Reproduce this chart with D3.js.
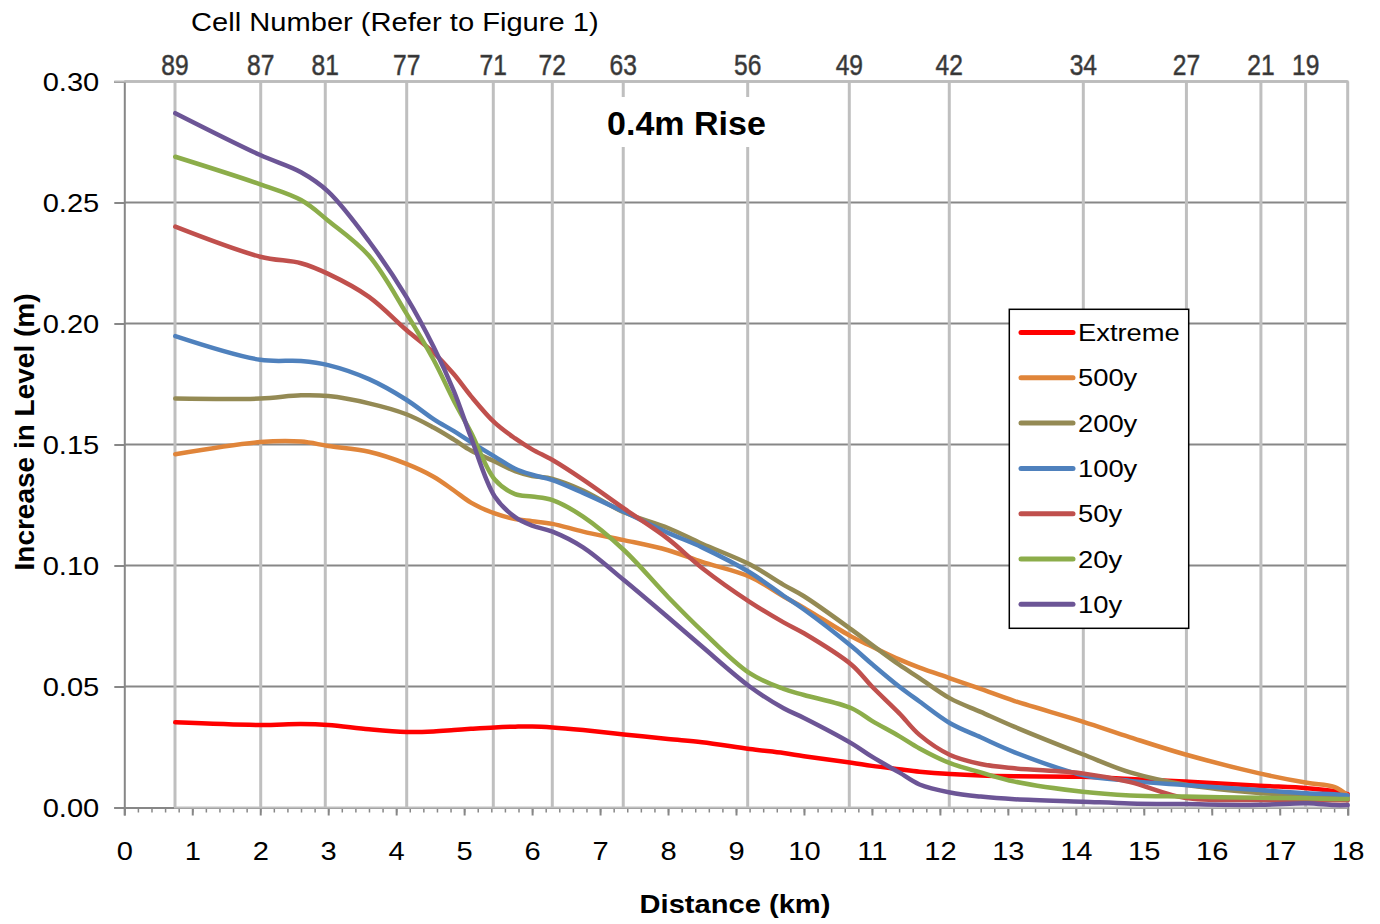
<!DOCTYPE html>
<html>
<head>
<meta charset="utf-8">
<script src="https://cdn.jsdelivr.net/npm/d3@7"></script>
<style>
  body { margin: 0; background: #fff; }
  svg { display: block; font-family: Arial, "Liberation Sans", sans-serif; }
</style>
</head>
<body>
<div id="chart"></div>
<script>
// distance along the channel (km) where each series was read
var distanceKm = [0.75, 2.0, 2.6, 3.0, 3.6, 4.15, 4.55, 4.85, 5.1, 5.45, 5.75, 6.0, 6.3, 6.75, 7.35,
    8.0, 8.5, 9.2, 9.7, 10.0, 10.7, 11.0, 11.4, 11.7, 12.15, 12.6, 13.1, 14.1, 14.8, 15.6, 16.7, 17.4, 17.8, 18.0];

var extreme = [0.0352, 0.0341, 0.0345, 0.0341, 0.0323, 0.0312, 0.0314, 0.0320, 0.0325, 0.0331, 0.0334, 0.0335, 0.0331, 0.0320, 0.0302,
    0.0283, 0.0270, 0.0242, 0.0225, 0.0212, 0.0185, 0.0172, 0.0158, 0.0148, 0.0138, 0.0132, 0.0129, 0.0127, 0.0118, 0.0107, 0.0090, 0.0080, 0.0068, 0.0055];
var y500 = [0.146, 0.151, 0.1512, 0.1494, 0.147, 0.142, 0.1367, 0.131, 0.126, 0.1215, 0.1192, 0.1183, 0.1172, 0.114, 0.1105,
    0.1063, 0.1015, 0.0954, 0.0872, 0.0825, 0.0706, 0.0665, 0.0612, 0.0578, 0.0534, 0.049, 0.044, 0.0355, 0.029, 0.022, 0.0141, 0.0102, 0.0085, 0.005];
var y200 = [0.169, 0.169, 0.1703, 0.170, 0.167, 0.1625, 0.157, 0.152, 0.1475, 0.143, 0.139, 0.137, 0.1358, 0.131, 0.122,
    0.1155, 0.109, 0.1005, 0.092, 0.0873, 0.0735, 0.0672, 0.059, 0.0535, 0.0451, 0.0395, 0.0333, 0.022, 0.0145, 0.0095, 0.006, 0.005, 0.0045, 0.004];
var y100 = [0.1948, 0.185, 0.1845, 0.1828, 0.177, 0.1685, 0.1605, 0.1555, 0.151, 0.145, 0.140, 0.1375, 0.1353, 0.130, 0.1222,
    0.1135, 0.1075, 0.0972, 0.0875, 0.0818, 0.0666, 0.0593, 0.050, 0.0438, 0.0348, 0.029, 0.0228, 0.0134, 0.011, 0.0093, 0.0072, 0.0059, 0.0055, 0.005];
var y50 = [0.240, 0.2276, 0.2249, 0.2205, 0.211, 0.1973, 0.188, 0.179, 0.170, 0.159, 0.1525, 0.148, 0.1436, 0.1355, 0.1236,
    0.111, 0.099, 0.085, 0.0765, 0.072, 0.059, 0.050, 0.039, 0.030, 0.0217, 0.018, 0.0162, 0.0141, 0.0105, 0.004, 0.0031, 0.003, 0.003, 0.003];
var y20 = [0.2689, 0.2575, 0.251, 0.2425, 0.228, 0.2042, 0.185, 0.168, 0.155, 0.1355, 0.1295, 0.1285, 0.127, 0.1202, 0.1064,
    0.087, 0.073, 0.0555, 0.049, 0.0465, 0.041, 0.0358, 0.0295, 0.0244, 0.0183, 0.0145, 0.0107, 0.0065, 0.005, 0.0045, 0.004, 0.0038, 0.0035, 0.0035];
var y10 = [0.2869, 0.2696, 0.2625, 0.2545, 0.234, 0.211, 0.1904, 0.172, 0.153, 0.1285, 0.120, 0.1165, 0.114, 0.1075, 0.094,
    0.0786, 0.0665, 0.050, 0.041, 0.037, 0.0265, 0.021, 0.0145, 0.0095, 0.0062, 0.0045, 0.0034, 0.0024, 0.0017, 0.0014, 0.0011, 0.0018, 0.001, 0.001];

var seriesNames = ["Extreme", "500y", "200y", "100y", "50y", "20y", "10y"];
var seriesValues = [extreme, y500, y200, y100, y50, y20, y10];
var seriesColors = ["#ff0000", "#e0853a", "#948a54", "#4f81bd", "#c0504d", "#8cad4a", "#6c5596"];

// secondary (top) axis: model cell numbers
var cellKm = [0.746, 2.007, 2.957, 4.155, 5.429, 6.297, 7.341, 9.172, 10.667, 12.138, 14.11, 15.627, 16.723, 17.381];
var cellLabels = ["89", "87", "81", "77", "71", "72", "63", "56", "49", "42", "34", "27", "21", "19"];

var width = 1380, height = 924;
var plotLeft = 124.3, plotRight = 1347.7, plotTop = 81.5, plotBottom = 807.5;
var stretch = "scale(1.12,1)";

var svg = d3.select("#chart").append("svg")
    .attr("width", width)
    .attr("height", height);

var x = d3.scaleLinear().domain([0, 18]).range([plotLeft, plotRight]);
var y = d3.scaleLinear().domain([0, 0.3]).range([plotBottom, plotTop]);

// horizontal gridlines
svg.append("g").selectAll("line")
    .data(y.ticks(6).filter(function(d) { return d > 0; }))
    .enter().append("line")
    .attr("x1", plotLeft).attr("x2", plotRight)
    .attr("y1", function(d) { return y(d); })
    .attr("y2", function(d) { return y(d); })
    .attr("stroke", "#878787")
    .attr("stroke-width", 2);

// vertical gridlines at the cells
svg.append("g").selectAll("line")
    .data(cellKm.concat([18]))
    .enter().append("line")
    .attr("x1", function(d) { return x(d); })
    .attr("x2", function(d) { return x(d); })
    .attr("y1", plotTop).attr("y2", plotBottom)
    .attr("stroke", "#bfbfbf")
    .attr("stroke-width", 3);

// left axis
var yAxis = svg.append("g")
    .attr("transform", "translate(" + plotLeft + ",0)")
    .call(d3.axisLeft(y).ticks(6).tickSize(10).tickFormat(d3.format(".2f")));
yAxis.select(".domain").attr("stroke", "#878787").attr("stroke-width", 2);
yAxis.selectAll(".tick line").attr("stroke", "#878787").attr("stroke-width", 2);
yAxis.selectAll(".tick text")
    .attr("x", -25 / 1.12).attr("dy", "0.36em")
    .attr("transform", stretch)
    .style("font-size", "26px").style("font-family", "Arial, 'Liberation Sans', sans-serif")
    .attr("fill", "#000");

// bottom axis, minor then major ticks
var xMinor = svg.append("g")
    .attr("transform", "translate(0," + plotBottom + ")")
    .call(d3.axisBottom(x).tickValues(d3.range(0, 18.01, 0.2)).tickSize(5).tickFormat(""));
xMinor.select(".domain").remove();
xMinor.selectAll(".tick line").attr("stroke", "#878787").attr("stroke-width", 1.5);

var xAxis = svg.append("g")
    .attr("transform", "translate(0," + plotBottom + ")")
    .call(d3.axisBottom(x).ticks(18).tickSize(8).tickFormat(d3.format("d")));
xAxis.select(".domain").attr("stroke", "#878787").attr("stroke-width", 2);
xAxis.selectAll(".tick line").attr("stroke", "#878787").attr("stroke-width", 2);
xAxis.selectAll(".tick text")
    .attr("y", 52.5).attr("dy", 0)
    .attr("transform", stretch)
    .style("font-size", "26px").style("font-family", "Arial, 'Liberation Sans', sans-serif")
    .attr("fill", "#000");

// secondary axis frame (light grey)
svg.append("line")
    .attr("x1", x(cellKm[0]) - 1).attr("x2", plotRight)
    .attr("y1", plotBottom).attr("y2", plotBottom)
    .attr("stroke", "#bfbfbf").attr("stroke-width", 2);
svg.append("line")
    .attr("x1", plotLeft - 10).attr("x2", plotRight + 1)
    .attr("y1", plotTop).attr("y2", plotTop)
    .attr("stroke", "#bcbcbc").attr("stroke-width", 2);

// cell number labels
svg.append("g").selectAll("text")
    .data(cellKm)
    .enter().append("text")
    .attr("transform", function(d) { return "translate(" + x(d) + ",75) scale(0.82,1)"; })
    .attr("text-anchor", "middle")
    .style("font-size", "30px")
    .attr("fill", "#333")
    .attr("stroke", "#555")
    .attr("stroke-width", 0.6)
    .text(function(d, i) { return cellLabels[i]; });

svg.append("text")
    .attr("transform", "translate(191,31) " + stretch)
    .style("font-size", "26px")
    .text("Cell Number (Refer to Figure 1)");

// series, smoothed like the spreadsheet lines
var line = d3.line()
    .x(function(d, i) { return x(distanceKm[i]); })
    .y(function(d) { return y(d); })
    .curve(d3.curveCatmullRom.alpha(0.5));

svg.append("g").selectAll("path")
    .data(seriesValues)
    .enter().append("path")
    .attr("d", line)
    .attr("fill", "none")
    .attr("stroke", function(d, i) { return seriesColors[i]; })
    .attr("stroke-width", 4.5)
    .attr("stroke-linejoin", "round")
    .attr("stroke-linecap", "round");

// chart title with white box
svg.append("rect")
    .attr("x", 596).attr("y", 97).attr("width", 182).attr("height", 50)
    .attr("fill", "#fff");
svg.append("text")
    .attr("x", 686.5).attr("y", 135)
    .attr("text-anchor", "middle")
    .style("font-size", "34px").style("font-weight", "bold")
    .text("0.4m Rise");

// axis titles
svg.append("text")
    .attr("transform", "translate(34,432) rotate(-90)")
    .attr("text-anchor", "middle")
    .style("font-size", "28px").style("font-weight", "bold")
    .text("Increase in Level (m)");
svg.append("text")
    .attr("transform", "translate(735,913) " + stretch)
    .attr("text-anchor", "middle")
    .style("font-size", "26px").style("font-weight", "bold")
    .text("Distance (km)");

// legend
var legend = svg.append("g");
legend.append("rect")
    .attr("x", 1009.3).attr("y", 309.3).attr("width", 179.4).attr("height", 319)
    .attr("fill", "#fff").attr("stroke", "#000").attr("stroke-width", 1.5);
var item = legend.selectAll(".item")
    .data(seriesNames)
    .enter().append("g")
    .attr("class", "item")
    .attr("transform", function(d, i) { return "translate(0," + (332.5 + i * 45.3) + ")"; });
item.append("line")
    .attr("x1", 1021).attr("x2", 1073)
    .attr("stroke", function(d, i) { return seriesColors[i]; })
    .attr("stroke-width", 5)
    .attr("stroke-linecap", "round");
item.append("text")
    .attr("transform", "translate(1078,8.5) scale(1.14,1)")
    .style("font-size", "24px")
    .text(function(d) { return d; });
</script>
</body>
</html>
